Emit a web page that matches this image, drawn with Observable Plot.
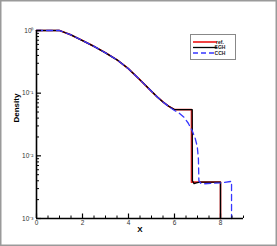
<!DOCTYPE html>
<html>
<head>
<meta charset="utf-8">
<script src="https://cdn.jsdelivr.net/npm/d3@7"></script>
<script src="https://cdn.jsdelivr.net/npm/@observablehq/plot@0.6"></script>
<style>
  html, body { margin: 0; padding: 0; background: white; }
  svg { display: block; }
</style>
</head>
<body>
<div id="chart"></div>
<script>
// Reference solution (ref.)
const refX = [0, 1, 1.5, 2, 2.5, 3, 3.5, 4, 4.5, 5, 5.25, 5.5, 5.75, 6.0, 6.74, 6.74, 8.0, 8.0];
const refY = [1, 1, 0.851, 0.69, 0.558, 0.44, 0.34, 0.245, 0.163, 0.107, 0.087, 0.0724, 0.0617, 0.0546, 0.0546, 0.0038, 0.0038, 0.001];
// SGH
const sghX = [0, 1, 1.5, 2, 2.5, 3, 3.5, 4, 4.5, 5, 5.25, 5.5, 5.75, 6.0, 6.77, 6.78, 6.85, 6.95, 7.1, 8.0, 8.0];
const sghY = [1, 1, 0.851, 0.69, 0.558, 0.44, 0.34, 0.245, 0.163, 0.107, 0.087, 0.0724, 0.0617, 0.0546, 0.0546, 0.0040, 0.0036, 0.0037, 0.0038, 0.0038, 0.001];
// CCH
const cchX = [0, 1, 1.5, 2, 2.5, 3, 3.5, 4, 4.5, 5, 5.25, 5.5, 5.75, 6.0, 6.2, 6.4, 6.6, 6.77, 6.9, 6.99, 7.04, 7.06, 7.15, 7.3, 8.0, 8.45, 8.48, 8.48];
const cchY = [1, 1, 0.851, 0.69, 0.558, 0.44, 0.34, 0.245, 0.163, 0.107, 0.087, 0.0724, 0.0612, 0.0530, 0.048, 0.0417, 0.0331, 0.0251, 0.019, 0.0141, 0.0089, 0.0040, 0.00363, 0.00358, 0.0037, 0.0039, 0.0039, 0.001];

const seriesNames = ["ref.", "SGH", "CCH"];
const seriesColors = ["#ee2222", "#000000", "#3636ff"];

const majorX = [0, 2, 4, 6, 8];
const minorX = [0.5, 1, 1.5, 2.5, 3, 3.5, 4.5, 5, 5.5, 6.5, 7, 7.5, 8.5, 9];
const majorY = [1e-3, 1e-2, 1e-1, 1];
const yTickLabels = ["10\u207B\u00B3", "10\u207B\u00B2", "10\u207B\u00B9", "10\u2070"];
const minorY = [];
[1e-3, 1e-2, 1e-1].forEach(d => { for (let k = 2; k <= 9; k++) minorY.push(+(d * k).toPrecision(3)); });

const toRows = (xs, ys) => xs.map((x, i) => ({x, y: ys[i]}));
const ref = toRows(refX, refY);
const sgh = toRows(sghX, sghY);
const cch = toRows(cchX, cchY);

const W = 277, H = 246;
const plot = Plot.plot({
  width: W, height: H,
  marginLeft: 36, marginRight: 34, marginTop: 30, marginBottom: 28,
  style: {fontFamily: "'Liberation Sans', Arial, sans-serif", fontSize: "6.5px", background: "white", color: "black"},
  x: {domain: [0, 9]},
  y: {type: "log", domain: [1e-3, 1]},
  marks: [
    Plot.line(ref, {x: "x", y: "y", stroke: seriesColors[0], strokeWidth: 1.7}),
    Plot.line(sgh, {x: "x", y: "y", stroke: seriesColors[1], strokeWidth: 1.3}),
    Plot.line(cch, {x: "x", y: "y", stroke: seriesColors[2], strokeWidth: 1.3, strokeDasharray: "6,4"}),
    Plot.ruleY([1e-3], {strokeWidth: 1.6}),
    Plot.ruleX([0], {strokeWidth: 1.6}),
    Plot.axisX(majorX, {tickSize: 4.5, dy: -4.5, fill: "none", label: null, strokeWidth: 1.2}),
    Plot.axisX(minorX, {tickSize: 2.5, dy: -2.5, fill: "none", label: null}),
    Plot.axisX(majorX, {tickSize: 0, tickPadding: 2, label: null, fill: "#333"}),
    Plot.axisY(majorY, {tickSize: 5, dx: 5, fill: "none", label: null, strokeWidth: 1.2}),
    Plot.axisY(minorY, {tickSize: 3, dx: 3, fill: "none", label: null}),
    Plot.axisY(majorY, {tickSize: 0, tickPadding: 3, label: null, fill: "#333",
      tickFormat: d => yTickLabels[majorY.indexOf(d)]}),
    Plot.text(["X"], {text: d => d, frameAnchor: "bottom", dy: 13, fontWeight: "bold", fontSize: 8}),
    Plot.text(["Density"], {text: d => d, frameAnchor: "left", dx: -20, dy: -2, rotate: -90, fontWeight: "bold", fontSize: 8})
  ]
});

const svg = d3.select(plot);
svg.append("rect").attr("x", 0.75).attr("y", 0.75).attr("width", W - 1.5).attr("height", H - 1.5)
  .attr("fill", "none").attr("stroke", "#9a9a9a").attr("stroke-width", 1.5);
const lg = svg.append("g").attr("font-family", "'Liberation Sans', Arial, sans-serif");
lg.append("rect").attr("x", 190.5).attr("y", 34.5).attr("width", 45).attr("height", 25)
  .attr("fill", "white").attr("stroke", "#888").attr("stroke-width", 1);
const dashes = [null, null, "5,3"];
const widths = [1.7, 1.3, 1.3];
seriesNames.forEach((name, i) => {
  const y = 42 + i * 5.5;
  lg.append("line").attr("x1", 193).attr("x2", 217).attr("y1", y).attr("y2", y)
    .attr("stroke", seriesColors[i]).attr("stroke-width", widths[i])
    .attr("stroke-dasharray", dashes[i]);
  lg.append("text").attr("x", 220).attr("y", y).attr("dy", "0.35em")
    .attr("font-size", 5).attr("font-weight", "bold").attr("fill", "#222").text(name);
});

document.getElementById("chart").append(plot);
</script>
</body>
</html>
